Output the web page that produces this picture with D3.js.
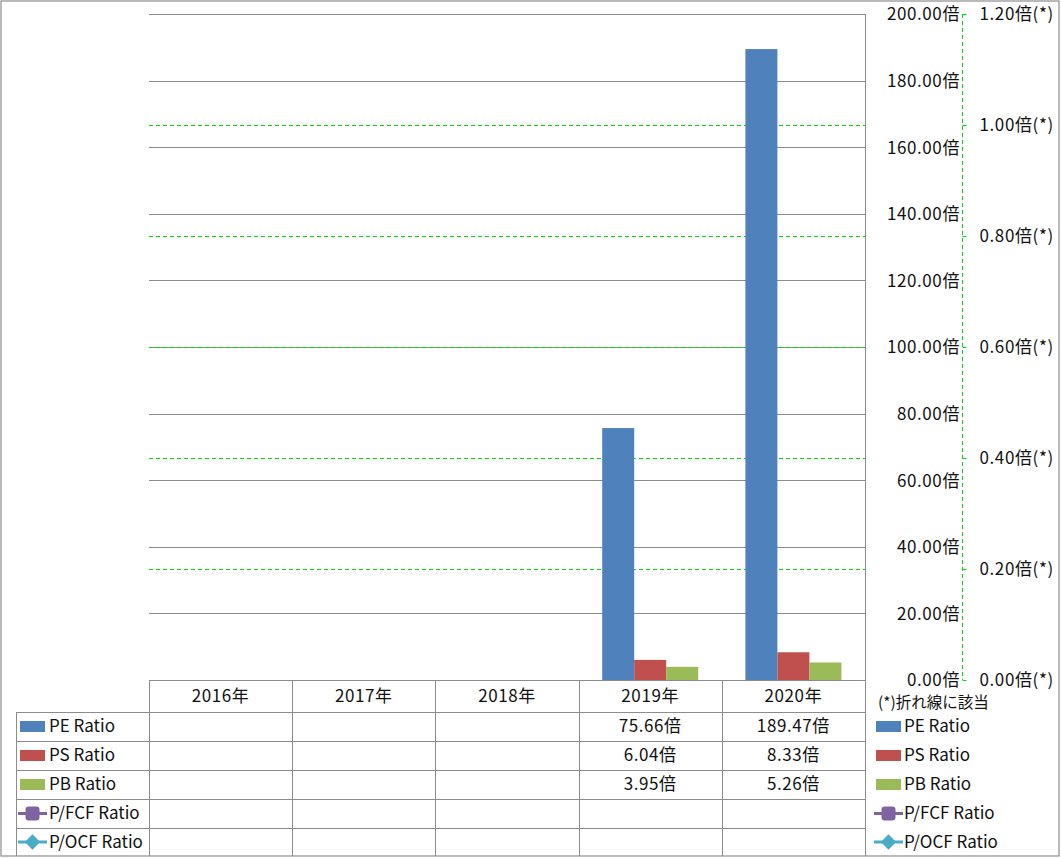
<!DOCTYPE html>
<html><head><meta charset="utf-8">
<script src="https://cdn.jsdelivr.net/npm/d3@7"></script>
<style>
html,body{margin:0;padding:0;background:#fff;}
svg text{font-family:"Noto Sans CJK JP","Noto Sans",sans-serif;fill:#111;}
</style></head><body>
<svg id="c" width="1061" height="858"></svg>
<script>
const categories = ["2016年","2017年","2018年","2019年","2020年"];
const peRatio = [null,null,null,75.66,189.47];
const psRatio = [null,null,null,6.04,8.33];
const pbRatio = [null,null,null,3.95,5.26];
const pfcfRatio = [null,null,null,null,null];
const pocfRatio = [null,null,null,null,null];
const leftTicks = [0,20,40,60,80,100,120,140,160,180,200];
const rightTicks = [0,0.2,0.4,0.6,0.8,1.0,1.2];
const seriesNames = ["PE Ratio","PS Ratio","PB Ratio","P/FCF Ratio","P/OCF Ratio"];
const seriesColors = ["#4F81BD","#C0504D","#9BBB59","#8064A2","#4BACC6"];
const barSeries = [peRatio, psRatio, pbRatio];
const lineSeries = [pfcfRatio, pocfRatio];
const footnote = "(*)折れ線に該当";

const svg = d3.select("#c");
const L = 149, R = 865, T = 14, B = 680;
const grid = "#8c8c8c";
const FS = "17px", LS = "0.6px";

// outer border
svg.append("rect").attr("x",1).attr("y",1).attr("width",1058).attr("height",855)
  .attr("fill","none").attr("stroke",grid).attr("stroke-width",1.2);

const x = d3.scaleBand().domain(categories).range([L,R]).paddingInner(0).paddingOuter(0);
const inner = d3.scaleBand().domain([0,1,2]).range([0,96]);
const y = d3.scaleLinear().domain([0,200]).range([B,T]);
const y2 = d3.scaleLinear().domain([0,1.2]).range([B,T]);

// primary gridlines
svg.append("g").selectAll("line").data(leftTicks).join("line")
  .attr("x1",L).attr("x2",R).attr("y1",d=>Math.round(y(d))+0.5).attr("y2",d=>Math.round(y(d))+0.5)
  .attr("stroke",grid).attr("stroke-width",1);

// secondary gridlines (dashed green)
svg.append("g").selectAll("line").data(rightTicks.filter(d=>d>0 && d<1.2)).join("line")
  .attr("x1",L).attr("x2",R).attr("y1",d=>Math.round(y2(d))+0.5).attr("y2",d=>Math.round(y2(d))+0.5)
  .attr("stroke","#00dd00").attr("stroke-width",1).attr("stroke-dasharray","4,3");

// bars
barSeries.forEach((s,si)=>{
  svg.append("g").selectAll("rect").data(categories.map((c,i)=>({c,v:s[i]})).filter(d=>d.v!=null)).join("rect")
    .attr("x",d=>x(d.c)+(x.bandwidth()-96)/2+inner(si))
    .attr("width",inner.bandwidth())
    .attr("y",d=>y(d.v)).attr("height",d=>B-y(d.v))
    .attr("fill",seriesColors[si]);
});

// right vertical line of plot
svg.append("line").attr("x1",R+0.5).attr("x2",R+0.5).attr("y1",T).attr("y2",856).attr("stroke",grid);

// primary axis labels
const yAxis = d3.axisRight(y).tickValues(leftTicks).tickSize(0).tickFormat(d=>d3.format(".2f")(d)+"倍");
const ga = svg.append("g").attr("transform",`translate(960,0)`).call(yAxis);
ga.select(".domain").remove();
ga.selectAll("text").attr("text-anchor","end").attr("x",0).attr("dy","0.35em")
  .style("font-size",FS).style("letter-spacing",LS).style("font-family",'"Noto Sans CJK JP",sans-serif').attr("fill","#111");

// secondary axis
const y2Axis = d3.axisRight(y2).tickValues(rightTicks).tickSize(4).tickFormat(d=>d3.format(".2f")(d)+"倍(*)");
const gb = svg.append("g").attr("transform",`translate(962.5,0)`).call(y2Axis);
gb.select(".domain").attr("stroke","#00dd00").attr("stroke-dasharray","4,3").attr("d",`M0,${T}V${B}`);
gb.selectAll(".tick line").attr("stroke","#00dd00");
gb.selectAll("text").attr("x",17).attr("dy","0.35em")
  .style("font-size",FS).style("letter-spacing",LS).style("font-family",'"Noto Sans CJK JP",sans-serif').attr("fill","#111");

// data table
const rowY = [680,712,741,770,799,828,856];
const tbl = svg.append("g");
tbl.selectAll("line.h").data(rowY.slice(1,6)).join("line")
  .attr("x1",16).attr("x2",R).attr("y1",d=>d+0.5).attr("y2",d=>d+0.5).attr("stroke",grid);
tbl.selectAll("line.v").data(categories).join("line")
  .attr("x1",d=>Math.round(x(d))+0.5).attr("x2",d=>Math.round(x(d))+0.5)
  .attr("y1",680).attr("y2",856).attr("stroke",grid);
tbl.append("line").attr("x1",16.5).attr("x2",16.5).attr("y1",712).attr("y2",856).attr("stroke",grid);
tbl.append("line").attr("x1",L).attr("x2",R).attr("y1",680.5).attr("y2",680.5).attr("stroke",grid);

// header labels
tbl.selectAll("text.cat").data(categories).join("text")
  .attr("x",d=>x(d)+x.bandwidth()/2).attr("y",696).attr("dy","0.35em")
  .attr("text-anchor","middle").style("font-size",FS).style("letter-spacing",LS).text(d=>d);

// values
const allSeries = [peRatio,psRatio,pbRatio,pfcfRatio,pocfRatio];
allSeries.forEach((s,si)=>{
  const cy = (rowY[si+1]+rowY[si+2])/2;
  tbl.append("g").selectAll("text").data(categories.map((c,i)=>({c,v:s[i]})).filter(d=>d.v!=null)).join("text")
    .attr("x",d=>x(d.c)+x.bandwidth()/2).attr("y",cy).attr("dy","0.35em")
    .attr("text-anchor","middle").style("font-size",FS).style("letter-spacing",LS).text(d=>d3.format(".2f")(d.v)+"倍");
});

// legend drawer
function legendKey(g, si, x0, cy){
  if(si<3){
    g.append("rect").attr("x",x0).attr("y",cy-5.5).attr("width",25).attr("height",11).attr("fill",seriesColors[si]);
  } else {
    g.append("line").attr("x1",x0-2).attr("x2",x0+27).attr("y1",cy).attr("y2",cy)
      .attr("stroke",seriesColors[si]).attr("stroke-width",3);
    if(si===3){
      g.append("rect").attr("x",x0+5.5).attr("y",cy-7).attr("width",14).attr("height",14).attr("rx",3)
        .attr("fill",seriesColors[si]);
    } else {
      g.append("path").attr("d",d3.symbol().type(d3.symbolDiamond2).size(150)())
        .attr("transform",`translate(${x0+12.5},${cy})`).attr("fill",seriesColors[si]);
    }
  }
}
seriesNames.forEach((n,si)=>{
  const cy = (rowY[si+1]+rowY[si+2])/2;
  legendKey(svg,si,20,cy);
  svg.append("text").attr("x",49).attr("y",cy).attr("dy","0.35em").style("font-size",FS).text(n);
  legendKey(svg,si,876,cy);
  svg.append("text").attr("x",904).attr("y",cy).attr("dy","0.35em").style("font-size",FS).text(n);
});
svg.append("text").attr("x",878).attr("y",703).attr("dy","0.35em").style("font-size","15.5px").text(footnote);
</script>
</body></html>
